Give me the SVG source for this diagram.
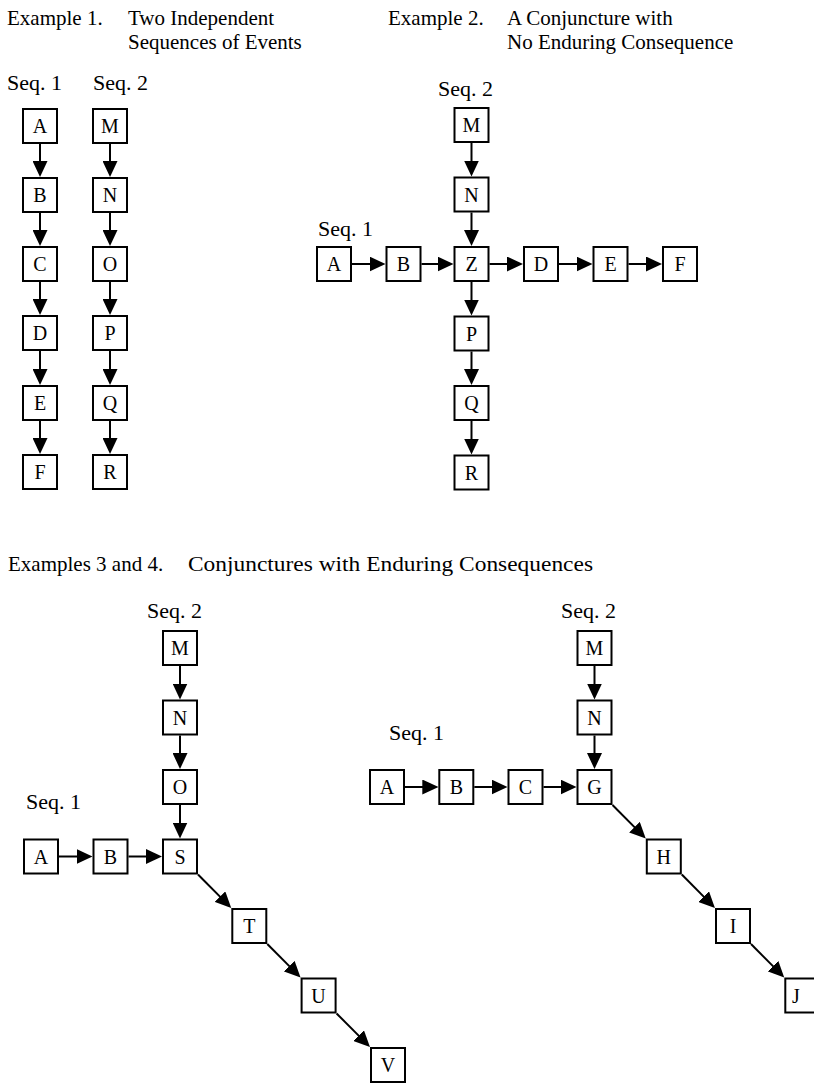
<svg xmlns="http://www.w3.org/2000/svg" width="814" height="1090" viewBox="0 0 814 1090">
<style>
.lbl{font-family:"Liberation Serif","Times New Roman",serif;font-size:22px;fill:#000}
.ttl{font-family:"Liberation Serif","Times New Roman",serif;font-size:21px;fill:#000}
.box rect{fill:#fff;stroke:#000;stroke-width:2}
.box text{font-family:"Liberation Serif","Times New Roman",serif;font-size:20px;fill:#000;text-anchor:middle}
.conn path{fill:none;stroke:#000;stroke-width:2;marker-end:url(#ah)}
</style>
<defs>
<marker id="ah" viewBox="0 0 16 15" refX="6" refY="7.5" markerWidth="16" markerHeight="15" markerUnits="userSpaceOnUse" orient="auto">
<path d="M0,0 L16,7.5 L0,15 Z" fill="#000"/>
</marker>
</defs>
<rect width="814" height="1090" fill="#fff"/>
<g id="labels">
<text class="ttl" x="7" y="25">Example 1.</text>
<text class="ttl" x="128" y="25">Two Independent</text>
<text class="ttl" x="128" y="48.5">Sequences of Events</text>
<text class="ttl" x="388" y="25">Example 2.</text>
<text class="ttl" x="507" y="25">A Conjuncture with</text>
<text class="ttl" x="507" y="48.5">No Enduring Consequence</text>
<text class="lbl" x="7" y="90">Seq. 1</text>
<text class="lbl" x="93" y="90">Seq. 2</text>
<text class="lbl" x="438" y="96">Seq. 2</text>
<text class="lbl" x="318" y="236">Seq. 1</text>
<text class="ttl" x="8" y="571">Examples 3 and 4.</text>
<text class="lbl" x="188" y="571" textLength="405" lengthAdjust="spacingAndGlyphs">Conjunctures with Enduring Consequences</text>
<text class="lbl" x="147" y="618">Seq. 2</text>
<text class="lbl" x="26" y="809">Seq. 1</text>
<text class="lbl" x="561" y="618">Seq. 2</text>
<text class="lbl" x="389" y="740">Seq. 1</text>
</g>
<g id="connectors" class="conn">
<path d="M40,144 V167"/><path d="M40,213 V236"/><path d="M40,282 V305"/><path d="M40,351 V375"/><path d="M40,421 V444"/>
<path d="M110,144 V167"/><path d="M110,213 V236"/><path d="M110,282 V305"/><path d="M110,351 V375"/><path d="M110,421 V444"/>
<path d="M471.5,143 V166.5"/><path d="M471.5,212.5 V236"/><path d="M471.5,282 V305.5"/><path d="M471.5,351.5 V375"/><path d="M471.5,421 V444.5"/>
<path d="M352,264 H375.5"/><path d="M421.5,264 H443.5"/><path d="M489.5,264 H513"/><path d="M559,264 H582.5"/><path d="M628.5,264 H652"/>
<path d="M180,666 V689.5"/><path d="M180,735.5 V759"/><path d="M180,805 V828.5"/>
<path d="M59,856.5 H82.5"/><path d="M128.5,856.5 H152"/>
<path d="M198,874.5 L224.2,900.9"/><path d="M267.3,944 L293.5,970.4"/><path d="M336.6,1013.5 L362.9,1039.9"/>
<path d="M594.5,666 V689.5"/><path d="M594.5,735.5 V759"/>
<path d="M405,787 H428.3"/><path d="M474.3,787 H497.5"/><path d="M543.5,787 H566.5"/>
<path d="M612.5,805 L638.7,831.4"/><path d="M681.8,874.5 L707.9,900.9"/><path d="M751,944 L777.2,970.4"/>
</g>
<g id="ex1-A" class="box"><rect x="23" y="109" width="34" height="34"/><text x="40" y="133">A</text></g>
<g id="ex1-B" class="box"><rect x="23" y="178" width="34" height="34"/><text x="40" y="202">B</text></g>
<g id="ex1-C" class="box"><rect x="23" y="247" width="34" height="34"/><text x="40" y="271">C</text></g>
<g id="ex1-D" class="box"><rect x="23" y="316" width="34" height="34"/><text x="40" y="340">D</text></g>
<g id="ex1-E" class="box"><rect x="23" y="386" width="34" height="34"/><text x="40" y="410">E</text></g>
<g id="ex1-F" class="box"><rect x="23" y="455" width="34" height="34"/><text x="40" y="479">F</text></g>
<g id="ex1-M" class="box"><rect x="93" y="109" width="34" height="34"/><text x="110" y="133">M</text></g>
<g id="ex1-N" class="box"><rect x="93" y="178" width="34" height="34"/><text x="110" y="202">N</text></g>
<g id="ex1-O" class="box"><rect x="93" y="247" width="34" height="34"/><text x="110" y="271">O</text></g>
<g id="ex1-P" class="box"><rect x="93" y="316" width="34" height="34"/><text x="110" y="340">P</text></g>
<g id="ex1-Q" class="box"><rect x="93" y="386" width="34" height="34"/><text x="110" y="410">Q</text></g>
<g id="ex1-R" class="box"><rect x="93" y="455" width="34" height="34"/><text x="110" y="479">R</text></g>
<g id="ex2-M" class="box"><rect x="454.5" y="108" width="34" height="34"/><text x="471.5" y="132">M</text></g>
<g id="ex2-N" class="box"><rect x="454.5" y="177.5" width="34" height="34"/><text x="471.5" y="201.5">N</text></g>
<g id="ex2-Z" class="box"><rect x="454.5" y="247" width="34" height="34"/><text x="471.5" y="271">Z</text></g>
<g id="ex2-P" class="box"><rect x="454.5" y="316.5" width="34" height="34"/><text x="471.5" y="340.5">P</text></g>
<g id="ex2-Q" class="box"><rect x="454.5" y="386" width="34" height="34"/><text x="471.5" y="410">Q</text></g>
<g id="ex2-R" class="box"><rect x="454.5" y="455.5" width="34" height="34"/><text x="471.5" y="479.5">R</text></g>
<g id="ex2-A" class="box"><rect x="317" y="247" width="34" height="34"/><text x="334" y="271">A</text></g>
<g id="ex2-B" class="box"><rect x="386.5" y="247" width="34" height="34"/><text x="403.5" y="271">B</text></g>
<g id="ex2-D" class="box"><rect x="524" y="247" width="34" height="34"/><text x="541" y="271">D</text></g>
<g id="ex2-E" class="box"><rect x="593.5" y="247" width="34" height="34"/><text x="610.5" y="271">E</text></g>
<g id="ex2-F" class="box"><rect x="663" y="247" width="34" height="34"/><text x="680" y="271">F</text></g>
<g id="ex3-M" class="box"><rect x="163" y="631" width="34" height="34"/><text x="180" y="655">M</text></g>
<g id="ex3-N" class="box"><rect x="163" y="700.5" width="34" height="34"/><text x="180" y="724.5">N</text></g>
<g id="ex3-O" class="box"><rect x="163" y="770" width="34" height="34"/><text x="180" y="794">O</text></g>
<g id="ex3-S" class="box"><rect x="163" y="839.5" width="34" height="34"/><text x="180" y="863.5">S</text></g>
<g id="ex3-A" class="box"><rect x="24" y="839.5" width="34" height="34"/><text x="41" y="863.5">A</text></g>
<g id="ex3-B" class="box"><rect x="93.5" y="839.5" width="34" height="34"/><text x="110.5" y="863.5">B</text></g>
<g id="ex3-T" class="box"><rect x="232.3" y="909" width="34" height="34"/><text x="249.3" y="933">T</text></g>
<g id="ex3-U" class="box"><rect x="301.6" y="978.5" width="34" height="34"/><text x="318.6" y="1002.5">U</text></g>
<g id="ex3-V" class="box"><rect x="371" y="1048" width="34" height="34"/><text x="388" y="1072">V</text></g>
<g id="ex4-M" class="box"><rect x="577.5" y="631" width="34" height="34"/><text x="594.5" y="655">M</text></g>
<g id="ex4-N" class="box"><rect x="577.5" y="700.5" width="34" height="34"/><text x="594.5" y="724.5">N</text></g>
<g id="ex4-G" class="box"><rect x="577.5" y="770" width="34" height="34"/><text x="594.5" y="794">G</text></g>
<g id="ex4-A" class="box"><rect x="370" y="770" width="34" height="34"/><text x="387" y="794">A</text></g>
<g id="ex4-B" class="box"><rect x="439.3" y="770" width="34" height="34"/><text x="456.3" y="794">B</text></g>
<g id="ex4-C" class="box"><rect x="508.5" y="770" width="34" height="34"/><text x="525.5" y="794">C</text></g>
<g id="ex4-H" class="box"><rect x="646.8" y="839.5" width="34" height="34"/><text x="663.8" y="863.5">H</text></g>
<g id="ex4-I" class="box"><rect x="716" y="909" width="34" height="34"/><text x="733" y="933">I</text></g>
<g id="ex4-J" class="box"><rect x="785.3" y="978.5" width="34" height="34"/><text x="796" y="1002.5">J</text></g>
</svg>
